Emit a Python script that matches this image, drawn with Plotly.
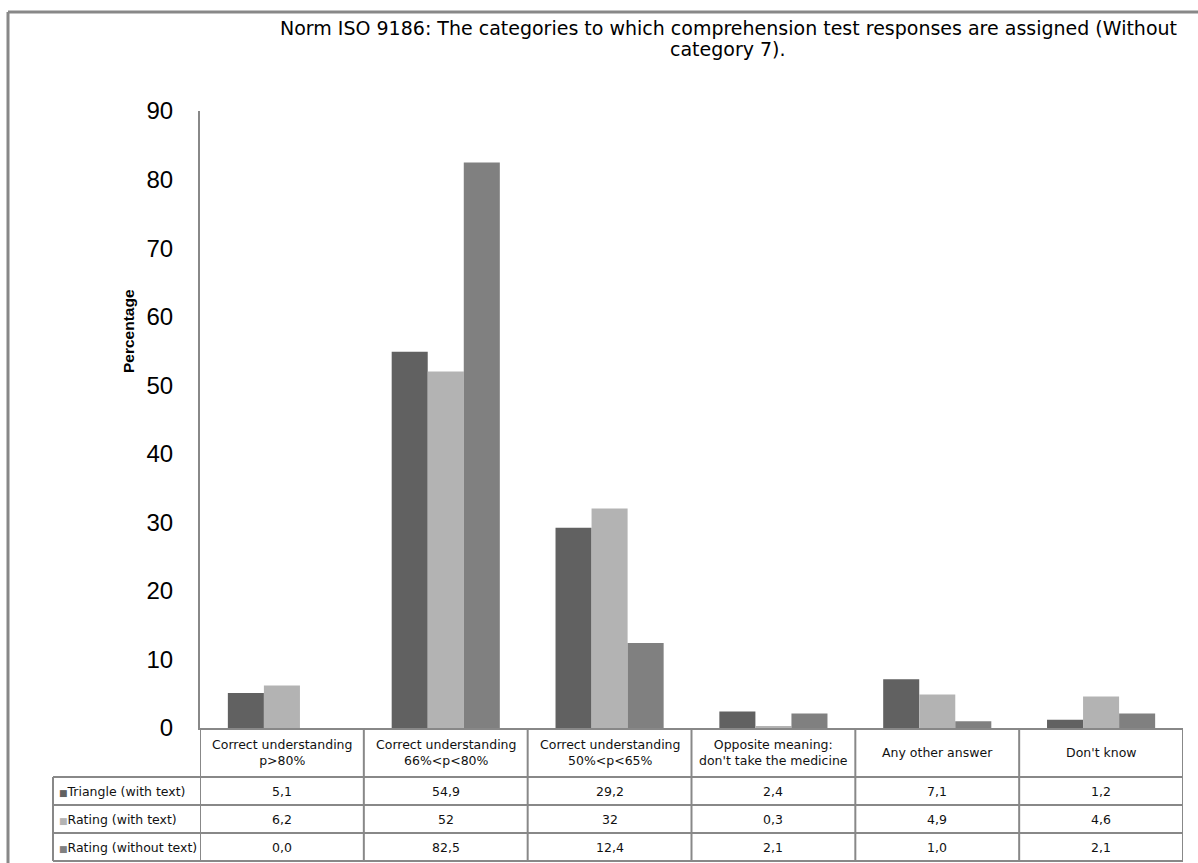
import plotly.graph_objects as go

# ---------------- data ----------------
categories = [
    "Correct understanding<br>p>80%",
    "Correct understanding<br>66%<p<80%",
    "Correct understanding<br>50%<p<65%",
    "Opposite meaning:<br>don't take the medicine",
    "Any other answer",
    "Don't know",
]
series_names = ["Triangle (with text)", "Rating (with text)", "Rating (without text)"]
triangle_with_text = ["5,1", "54,9", "29,2", "2,4", "7,1", "1,2"]
rating_with_text = ["6,2", "52", "32", "0,3", "4,9", "4,6"]
rating_without_text = ["0,0", "82,5", "12,4", "2,1", "1,0", "2,1"]
series_labels = [triangle_with_text, rating_with_text, rating_without_text]
series_colors = ["#616161", "#b3b3b3", "#808080"]
y_ticks = [0, 10, 20, 30, 40, 50, 60, 70, 80, 90]

title_lines = ["Norm ISO 9186: The categories to which comprehension test responses are assigned (Without",
               "category 7)."]
y_title = "Percentage"

# ---------------- geometry helpers (pixels -> paper) ----------------
W, H = 1198, 863
def px(x):
    return x / W
def py(y):
    return 1 - y / H

GRAY = "#888888"
FONT = "Liberation Sans, Arial, sans-serif"
TFONT = "DejaVu Sans, sans-serif"

x_left, x_right = 200, 1183
y_top, y_bottom = 111, 728
row_lines = [777, 805, 833, 861]
legend_left = 53

fig = go.Figure()
xs = list(range(len(categories)))
for name, labels, color in zip(series_names, series_labels, series_colors):
    vals = [float(s.replace(",", ".")) for s in labels]
    fig.add_trace(go.Bar(x=xs, y=vals, name=name, marker=dict(color=color, line=dict(width=0))))

fig.update_layout(
    width=W, height=H, autosize=False,
    margin=dict(l=0, r=0, t=0, b=0, autoexpand=False),
    paper_bgcolor="white", plot_bgcolor="white",
    barmode="group", bargap=0.34, bargroupgap=0,
    showlegend=False,
    font=dict(family=FONT, color="#000000"),
    xaxis=dict(domain=[px(x_left), px(x_right)], range=[-0.5, len(categories) - 0.5],
               showticklabels=False, ticks="", showgrid=False, zeroline=False,
               showline=True, linecolor=GRAY, linewidth=2, fixedrange=True),
    yaxis=dict(domain=[py(y_bottom), py(y_top)], range=[0, 90], tickvals=y_ticks,
               tickfont=dict(size=24, family=FONT, color="#000000"),
               ticks="", ticklabelstandoff=20, showgrid=False, zeroline=False,
               showline=True, linecolor=GRAY, linewidth=2, fixedrange=True),
)

shapes = []
# outer frame (left and top edges)
shapes.append(dict(type="line", xref="paper", yref="paper", x0=px(8), x1=px(8), y0=0, y1=py(12),
                   line=dict(color=GRAY, width=3)))
shapes.append(dict(type="line", xref="paper", yref="paper", x0=px(8), x1=1, y0=py(12), y1=py(12),
                   line=dict(color=GRAY, width=3)))
# table horizontal lines
for yl in row_lines:
    shapes.append(dict(type="line", xref="paper", yref="paper", x0=px(legend_left), x1=px(x_right),
                       y0=py(yl), y1=py(yl), line=dict(color=GRAY, width=2)))
# legend column left edge
shapes.append(dict(type="line", xref="paper", yref="paper", x0=px(legend_left), x1=px(legend_left),
                   y0=py(row_lines[0]), y1=py(row_lines[-1]), line=dict(color=GRAY, width=2)))
# category boundaries
for i in range(len(categories) + 1):
    shapes.append(dict(type="line", xref="x", yref="paper", x0=i - 0.5, x1=i - 0.5,
                       y0=py(y_bottom), y1=py(row_lines[-1]), line=dict(color=GRAY, width=2)))

annotations = []
# title (two lines)
for txt, yc in zip(title_lines, [28, 49]):
    annotations.append(dict(text=txt, xref="paper", yref="paper", x=px(728), y=py(yc),
                            xanchor="center", yanchor="middle", showarrow=False,
                            font=dict(size=19, family=TFONT, color="#000000")))
# y-axis title
annotations.append(dict(text="<b>" + y_title + "</b>", xref="paper", yref="paper", x=px(129), y=py(331),
                        xanchor="center", yanchor="middle", textangle=-90, showarrow=False,
                        font=dict(size=15.5, family=FONT, color="#000000")))
# header row
for i, c in enumerate(categories):
    annotations.append(dict(text=c, xref="x", yref="paper", x=i, y=py((y_bottom + row_lines[0]) / 2),
                            xanchor="center", yanchor="middle", showarrow=False,
                            font=dict(size=12.5, family=TFONT, color="#111111")))
# data rows
for r, (name, labels, color) in enumerate(zip(series_names, series_labels, series_colors)):
    yc = py((row_lines[r] + row_lines[r + 1]) / 2)
    annotations.append(dict(
        text=f"<span style='color:{color};font-size:9px'>■</span>{name}",
        xref="paper", yref="paper", x=px(legend_left + 4), y=yc,
        xanchor="left", yanchor="middle", showarrow=False,
        font=dict(size=12.5, family=TFONT, color="#111111")))
    for i, s in enumerate(labels):
        annotations.append(dict(text=s, xref="x", yref="paper", x=i, y=yc,
                                xanchor="center", yanchor="middle", showarrow=False,
                                font=dict(size=12.5, family=TFONT, color="#111111")))

fig.update_layout(shapes=shapes, annotations=annotations)
fig.write_html("out.html",
               config={"displayModeBar": False},
               post_script="document.body.style.margin='0';document.body.style.padding='0';"
                           "document.body.style.overflow='hidden';")
